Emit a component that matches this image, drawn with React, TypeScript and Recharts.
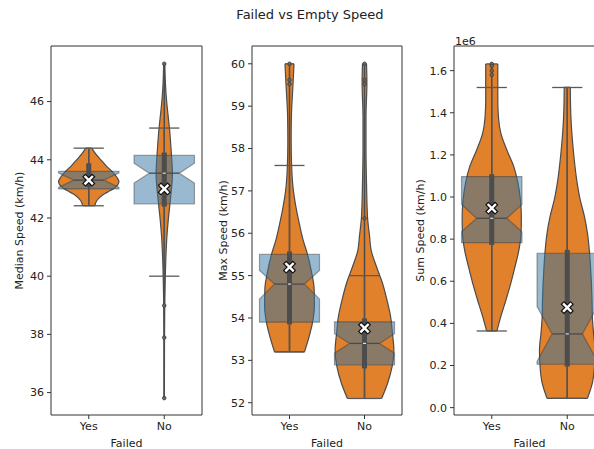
import React from 'react';
import { ComposedChart, Area, Scatter, XAxis, YAxis, ReferenceLine, ReferenceArea } from 'recharts';

const CATEGORIES = ['Yes', 'No'];
const TITLE = 'Failed vs Empty Speed';

// violin profiles: [value, relative density]
const medianYesViolin: [number, number][] = [
  [42.42, 0.2], [42.6, 0.27], [42.8, 0.47], [42.95, 0.73], [43.1, 0.93], [43.25, 1.0], [43.4, 0.93],
  [43.6, 0.77], [43.8, 0.57], [44.0, 0.4], [44.2, 0.23], [44.4, 0.1],
];
const medianNoViolin: [number, number][] = [
  [35.8, 0.005], [37.5, 0.008], [39.0, 0.017], [40.0, 0.035], [40.8, 0.06], [41.4, 0.09], [41.9, 0.13],
  [42.6, 0.2], [43.5, 0.27], [44.3, 0.23], [45.0, 0.18], [45.5, 0.13], [46.0, 0.08], [46.6, 0.04], [47.3, 0.02],
];
const maxYesViolin: [number, number][] = [
  [53.2, 0.5], [53.5, 0.63], [53.9, 0.77], [54.3, 0.83], [54.7, 0.82], [55.1, 0.73], [55.5, 0.6],
  [55.85, 0.45], [56.25, 0.32], [56.6, 0.22], [57.0, 0.13], [57.6, 0.07], [58.2, 0.055], [58.8, 0.065],
  [59.3, 0.1], [59.7, 0.13], [60.0, 0.15],
];
const maxNoViolin: [number, number][] = [
  [52.1, 0.57], [52.46, 0.77], [52.85, 0.92], [53.24, 0.98], [53.64, 0.93], [54.03, 0.87], [54.42, 0.75],
  [54.82, 0.6], [55.21, 0.4], [55.6, 0.22], [55.92, 0.17], [56.39, 0.1], [57.18, 0.067], [57.97, 0.05],
  [58.75, 0.05], [59.54, 0.08], [60.0, 0.067],
];
const sumYesViolin: [number, number][] = [
  [0.364, 0.17], [0.432, 0.3], [0.511, 0.47], [0.59, 0.63], [0.669, 0.77], [0.749, 0.9], [0.828, 0.97],
  [0.907, 0.98], [0.986, 0.95], [1.065, 0.87], [1.144, 0.73], [1.223, 0.5], [1.303, 0.3], [1.382, 0.22],
  [1.461, 0.2], [1.54, 0.2], [1.632, 0.2],
];
const sumNoViolin: [number, number][] = [
  [0.044, 0.67], [0.116, 0.83], [0.194, 0.9], [0.274, 0.92], [0.353, 0.87], [0.432, 0.83], [0.511, 0.82],
  [0.59, 0.8], [0.669, 0.77], [0.749, 0.73], [0.828, 0.67], [0.907, 0.57], [0.986, 0.43], [1.065, 0.33],
  [1.223, 0.2], [1.382, 0.12], [1.521, 0.1],
];

type Stat = {
  q1: number; nlo: number; med: number; nhi: number; q3: number; wlo: number; whi: number;
  mean: number; iq1: number; imed: number; iq3: number;
};

const medianStats: Stat[] = [
  { q1: 43.0, nlo: 43.05, med: 43.3, nhi: 43.55, q3: 43.6, wlo: 42.42, whi: 44.4, mean: 43.3, iq1: 43.06, imed: 43.3, iq3: 43.88 },
  { q1: 42.48, nlo: 43.2, med: 43.54, nhi: 43.88, q3: 44.15, wlo: 40.0, whi: 45.09, mean: 43.0, iq1: 42.39, imed: 43.54, iq3: 44.25 },
];
const maxStats: Stat[] = [
  { q1: 53.9, nlo: 54.45, med: 54.8, nhi: 55.12, q3: 55.5, wlo: 53.2, whi: 57.6, mean: 55.2, iq1: 53.85, imed: 54.8, iq3: 55.57 },
  { q1: 52.89, nlo: 53.17, med: 53.4, nhi: 53.63, q3: 53.91, wlo: 52.1, whi: 55.0, mean: 53.76, iq1: 52.81, imed: 53.4, iq3: 53.99 },
];
const sumStats: Stat[] = [
  { q1: 0.783, nlo: 0.835, med: 0.899, nhi: 0.965, q3: 1.097, wlo: 0.364, whi: 1.52, mean: 0.947, iq1: 0.772, imed: 0.899, iq3: 1.108 },
  { q1: 0.206, nlo: 0.22, med: 0.35, nhi: 0.48, q3: 0.733, wlo: 0.044, whi: 1.52, mean: 0.475, iq1: 0.195, imed: 0.35, iq3: 0.749 },
];

const medianFliers: number[][] = [[], [47.3, 38.99, 37.89, 35.81]];
const maxFliers: number[][] = [[60.0, 59.62, 59.52], [60.0, 59.62, 59.52, 56.35]];
const sumFliers: number[][] = [[1.632, 1.622, 1.6, 1.58], []];

const medianTicks = [36, 38, 40, 42, 44, 46];
const maxTicks = [52, 53, 54, 55, 56, 57, 58, 59, 60];
const sumTicks = [0.0, 0.2, 0.4, 0.6, 0.8, 1.0, 1.2, 1.4, 1.6];

const FONT = '"DejaVu Sans", sans-serif';
const ORANGE = '#e1812c';
const BLUE = '#3274a1';
const DARK = '#4c4c4c';
const TEXT = '#222';
const VIOLIN_HALF = 0.4;
const BOX_HALF = 0.4;
const NOTCH_HALF = 0.2;
const CAP_HALF = 0.2;

function XMark(props: any) {
  const { cx, cy } = props;
  if (cx == null || cy == null) return null;
  const s = 3.3;
  const d = `M${cx - s},${cy - s}L${cx + s},${cy + s}M${cx - s},${cy + s}L${cx + s},${cy - s}`;
  return (
    <g>
      <path d={d} stroke="#111" strokeWidth={4.8} strokeLinecap="square" fill="none" />
      <path d={d} stroke="#fff" strokeWidth={2.4} strokeLinecap="square" fill="none" />
    </g>
  );
}

function MedDot(props: any) {
  const { cx, cy } = props;
  if (cx == null || cy == null) return null;
  return <line x1={cx - 1.6} x2={cx + 1.6} y1={cy} y2={cy} stroke="#ddd" strokeWidth={1.2} />;
}

function Flier(props: any) {
  const { cx, cy } = props;
  if (cx == null || cy == null) return null;
  return <circle cx={cx} cy={cy} r={1.8} fill="#666" stroke="#3d3d3d" strokeWidth={0.8} />;
}

type PanelProps = {
  left: number; axisW: number; plotW: number; domain: [number, number]; ticks: number[];
  fmt: (v: number) => string; yLabel: string; labelOffset: number;
  violins: [number, number][][]; stats: Stat[]; fliers: number[][];
};

function Panel(p: PanelProps) {
  const width = p.axisW + p.plotW + 2;
  const violinData = p.violins.map((prof, i) =>
    prof.map(([v, d]) => ({ v, r: [i - d * VIOLIN_HALF, i + d * VIOLIN_HALF] }))
  );
  const boxData = p.stats.map((s, i) => [
    { v: s.q1, r: [i, i] },
    { v: s.q1, r: [i - BOX_HALF, i + BOX_HALF] },
    { v: s.nlo, r: [i - BOX_HALF, i + BOX_HALF] },
    { v: s.med, r: [i - NOTCH_HALF, i + NOTCH_HALF] },
    { v: s.nhi, r: [i - BOX_HALF, i + BOX_HALF] },
    { v: s.q3, r: [i - BOX_HALF, i + BOX_HALF] },
    { v: s.q3, r: [i, i] },
  ]);
  const meanData = p.stats.map((s, i) => ({ x: i, v: s.mean }));
  const medData = p.stats.map((s, i) => ({ x: i, v: s.imed }));
  const flierData = p.fliers.flatMap((arr, i) => arr.map((v) => ({ x: i, v })));
  const tickStyle = { fill: TEXT, fontSize: 11, fontFamily: FONT };

  return (
    <div style={{ position: 'absolute', left: p.left, top: 0 }}>
      <ComposedChart layout="vertical" width={width} height={449} margin={{ top: 46, right: 2, bottom: 0, left: 0 }}>
        <XAxis
          type="number" dataKey="x" domain={[-0.5, 1.5]} ticks={[0, 1]} interval={0} allowDataOverflow
          tickFormatter={(i: number) => CATEGORIES[i]} height={34} tickSize={4} tickMargin={3}
          axisLine={false} tick={tickStyle} tickLine={{ stroke: '#333' }}
          label={{ value: 'Failed', position: 'insideBottom', offset: 2, fill: TEXT, fontSize: 11, fontFamily: FONT }}
        />
        <YAxis
          type="number" dataKey="v" domain={p.domain} ticks={p.ticks} interval={0} allowDataOverflow reversed
          tickFormatter={p.fmt} width={p.axisW} tickSize={4} tickMargin={3} axisLine={false}
          tick={tickStyle} tickLine={{ stroke: '#333' }}
          label={{ value: p.yLabel, angle: -90, position: 'insideLeft', offset: p.labelOffset, style: { textAnchor: 'middle' }, fill: TEXT, fontSize: 11, fontFamily: FONT }}
        />
        {violinData.map((d, i) => (
          <Area key={'vio' + i} data={d} dataKey="r" type="monotone" fill={ORANGE} fillOpacity={1}
            stroke={DARK} strokeWidth={1.2} isAnimationActive={false} dot={false} activeDot={false} />
        ))}
        {boxData.map((d, i) => (
          <Area key={'box' + i} data={d} dataKey="r" type="linear" fill={BLUE} fillOpacity={0.5}
            stroke="#3a3a3a" strokeOpacity={0.45} strokeWidth={1.2} isAnimationActive={false} dot={false} activeDot={false} />
        ))}
        {p.violins.map((prof, i) => {
          const a = prof[0];
          const b = prof[prof.length - 1];
          return [
            <ReferenceLine key={'vb' + i} segment={[{ x: i - a[1] * VIOLIN_HALF, y: a[0] }, { x: i + a[1] * VIOLIN_HALF, y: a[0] }]} stroke={DARK} strokeWidth={1.2} />,
            <ReferenceLine key={'vt' + i} segment={[{ x: i - b[1] * VIOLIN_HALF, y: b[0] }, { x: i + b[1] * VIOLIN_HALF, y: b[0] }]} stroke={DARK} strokeWidth={1.2} />,
            <ReferenceLine key={'vl' + i} segment={[{ x: i, y: a[0] }, { x: i, y: b[0] }]} stroke={DARK} strokeWidth={1.5} />,
          ];
        })}
        {p.stats.map((s, i) => [
          <ReferenceLine key={'ib' + i} segment={[{ x: i, y: s.iq1 }, { x: i, y: s.iq3 }]} stroke={DARK} strokeWidth={5} />,
          <ReferenceLine key={'wh' + i} segment={[{ x: i, y: s.q3 }, { x: i, y: s.whi }]} stroke="#555" strokeWidth={1.3} />,
          <ReferenceLine key={'wl' + i} segment={[{ x: i, y: s.wlo }, { x: i, y: s.q1 }]} stroke="#555" strokeWidth={1.3} />,
          <ReferenceLine key={'ch' + i} segment={[{ x: i - CAP_HALF, y: s.whi }, { x: i + CAP_HALF, y: s.whi }]} stroke="#595959" strokeWidth={1.3} />,
          <ReferenceLine key={'cl' + i} segment={[{ x: i - CAP_HALF, y: s.wlo }, { x: i + CAP_HALF, y: s.wlo }]} stroke="#595959" strokeWidth={1.3} />,
          <ReferenceLine key={'md' + i} segment={[{ x: i - NOTCH_HALF, y: s.med }, { x: i + NOTCH_HALF, y: s.med }]} stroke="#4a4a4a" strokeWidth={1.3} />,
        ])}
        <Scatter data={medData} shape={MedDot} isAnimationActive={false} />
        <Scatter data={flierData} shape={Flier} isAnimationActive={false} />
        <Scatter data={meanData} shape={XMark} isAnimationActive={false} />
        <ReferenceArea x1={-0.5} x2={1.5} y1={p.domain[0]} y2={p.domain[1]} fill="none" fillOpacity={0} stroke="#333" strokeWidth={1} />
      </ComposedChart>
    </div>
  );
}

export default function App() {
  return (
    <div style={{ position: 'absolute', left: 0, top: 0, width: 594, height: 449, overflow: 'hidden', background: '#fff', fontFamily: FONT }}>
      <div style={{ position: 'absolute', left: 0, top: 7, width: 620, textAlign: 'center', fontSize: 13, lineHeight: '16px', color: TEXT }}>
        {TITLE}
      </div>
      <Panel left={0} axisW={51} plotW={151} domain={[35.23, 47.91]} ticks={medianTicks}
        fmt={(v) => String(v)} yLabel="Median Speed (km/h)" labelOffset={19}
        violins={[medianYesViolin, medianNoViolin]} stats={medianStats} fliers={medianFliers} />
      <Panel left={200} axisW={52} plotW={150} domain={[51.71, 60.42]} ticks={maxTicks}
        fmt={(v) => String(v)} yLabel="Max Speed (km/h)" labelOffset={23}
        violins={[maxYesViolin, maxNoViolin]} stats={maxStats} fliers={maxFliers} />
      <Panel left={402} axisW={52} plotW={151} domain={[-0.035, 1.717]} ticks={sumTicks}
        fmt={(v) => v.toFixed(1)} yLabel="Sum Speed (km/h)" labelOffset={18}
        violins={[sumYesViolin, sumNoViolin]} stats={sumStats} fliers={sumFliers} />
      <div style={{ position: 'absolute', left: 455, top: 35, fontSize: 11, lineHeight: '13px', color: TEXT }}>1e6</div>
    </div>
  );
}
